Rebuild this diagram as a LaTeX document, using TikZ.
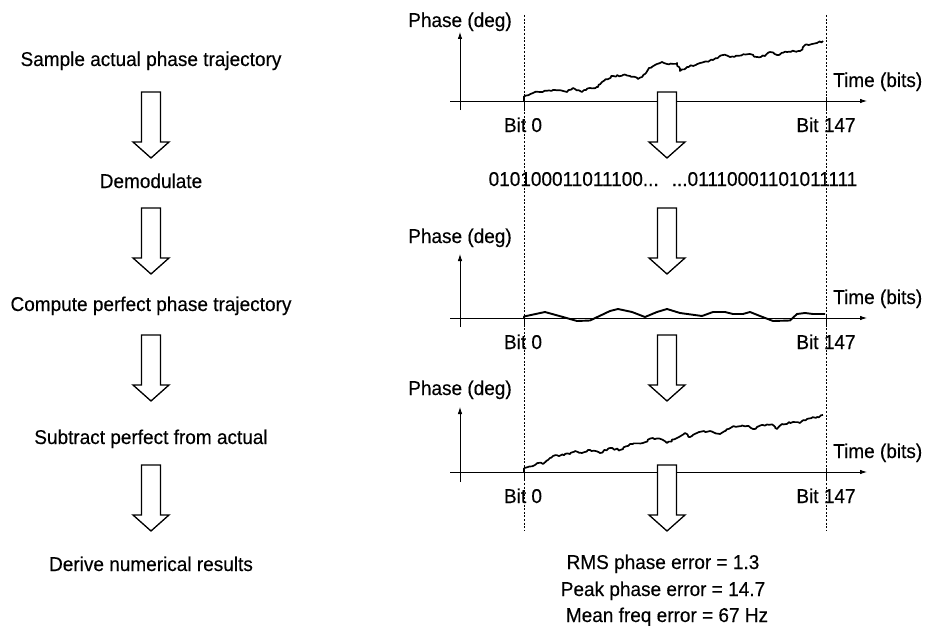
\documentclass[tikz,border=0pt]{standalone}
\usepackage{fontspec}
\setmainfont{Liberation Sans}[FakeStretch=0.95,FakeBold=0.3]
\usetikzlibrary{arrows.meta,decorations.pathmorphing}
\begin{document}
\begin{tikzpicture}[x=1pt,y=-1pt,
  txt/.style={font=\fontsize{20}{27}\selectfont, inner sep=0pt},
  axisline/.style={line width=0.8pt,-{Latex[length=7pt,width=4.5pt]}},
  tickline/.style={line width=0.8pt},
  guide/.style={line width=0.7pt, dash pattern=on 2pt off 1.6pt},
  harrow/.style={line width=1.3pt, line join=miter, fill=white},
  trace/.style={line width=1.7pt, line join=round},
  noisy/.style={trace, decorate, decoration={random steps, segment length=2.2pt, amplitude=0.9pt}},
  hollow/.pic={\draw[harrow] (-9.5,0) -- (-9.5,50) -- (-18,50) -- (0,66) -- (18,50) -- (9.5,50) -- (9.5,0) -- cycle;}
]
\pgfmathsetseed{7}
\fill[white] (0,0) rectangle (927,626);
\useasboundingbox (0,0) rectangle (927,626);

% ---------- left column ----------
\node[txt, anchor=base] (s1) at (151,66) {Sample actual phase trajectory};
\node[txt, anchor=base] (s2) at (151,188) {Demodulate};
\node[txt, anchor=base] (s3) at (151,311) {Compute perfect phase trajectory};
\node[txt, anchor=base] (s4) at (151,444) {Subtract perfect from actual};
\node[txt, anchor=base] (s5) at (151,571) {Derive numerical results};

\pic at (151,92) {hollow};
\pic at (151,208) {hollow};
\pic at (151,335) {hollow};
\pic at (151,465) {hollow};

% ---------- guides ----------
\coordinate (g0t) at (524,15); \coordinate (g0b) at (524,530);
\coordinate (g1t) at (826,15); \coordinate (g1b) at (826,530);
\draw[guide] (g0t) -- (g0b);
\draw[guide] (g1t) -- (g1b);

% ---------- graph 1 (actual) ----------
\coordinate (xa1) at (450,101); \coordinate (xb1) at (867,101);
\coordinate (ya1) at (460,110); \coordinate (yb1) at (460,32);
\draw[axisline] (xa1) -- (xb1);
\draw[axisline] (ya1) -- (yb1);
\draw[tickline] (524,101) -- (524,109);
\draw[tickline] (826,97) -- (826,109);
\node[txt, anchor=base] (p1) at (460,27) {Phase (deg)};
\node[txt, anchor=base west] (t1) at (833,87) {Time (bits)};
\node[txt, anchor=base] (b01) at (523,132) {Bit 0};
\node[txt, anchor=base] (b11) at (826,132) {Bit 147};
\draw[trace] (524,101) -- (524,96.5);
\draw[noisy] (524,96.5) -- (533,93) -- (540,92) -- (553,90) -- (567,92) -- (573,88) -- (582,92) -- (590,88) -- (598,87) -- (602,82) -- (613,76) -- (623,75) -- (630,76) -- (638,79) -- (645,74) -- (649,68) -- (655,65) -- (662,62) -- (667,64) -- (677,63) -- (680,71) -- (687,67) -- (700,63) -- (713,60) -- (723,55) -- (730,57) -- (750,54) -- (757,57) -- (765,56) -- (770,52) -- (777,55) -- (787,52) -- (800,51) -- (805,45) -- (812,44) -- (817,43) -- (823,41);

\node[txt, anchor=base] (bits) at (673,186) {010100011011100...\hspace{13pt}...01110001101011111};

% ---------- graph 2 (perfect) ----------
\coordinate (xa2) at (450,318); \coordinate (xb2) at (867,318);
\coordinate (ya2) at (460,327); \coordinate (yb2) at (460,254);
\draw[axisline] (xa2) -- (xb2);
\draw[axisline] (ya2) -- (yb2);
\draw[tickline] (524,318) -- (524,326);
\draw[tickline] (826,314) -- (826,326);
\node[txt, anchor=base] (p2) at (460,243) {Phase (deg)};
\node[txt, anchor=base west] (t2) at (833,304) {Time (bits)};
\node[txt, anchor=base] (b02) at (523,349) {Bit 0};
\node[txt, anchor=base] (b12) at (826,349) {Bit 147};
\draw[trace, line width=1.9pt] (524,318) -- (524,316.5) -- (545,312) -- (563,317) -- (577,321) -- (590,320.5) -- (610,311) -- (618,309) -- (632,312) -- (645,317) -- (657,312) -- (667,309) -- (680,313) -- (702,316) -- (713,312) -- (725,312) -- (733,314) -- (743,314) -- (750,312) -- (760,316) -- (773,321) -- (790,320.5) -- (797,314) -- (805,313) -- (813,314) -- (825,314);

% ---------- graph 3 (error) ----------
\coordinate (xa3) at (450,472); \coordinate (xb3) at (867,472);
\coordinate (ya3) at (460,482); \coordinate (yb3) at (460,407);
\draw[axisline] (xa3) -- (xb3);
\draw[axisline] (ya3) -- (yb3);
\draw[tickline] (524,472) -- (524,480);
\draw[tickline] (826,468) -- (826,480);
\node[txt, anchor=base] (p3) at (460,395) {Phase (deg)};
\node[txt, anchor=base west] (t3) at (833,458) {Time (bits)};
\node[txt, anchor=base] (b03) at (523,503) {Bit 0};
\node[txt, anchor=base] (b13) at (826,503) {Bit 147};
\draw[trace] (524,472) -- (524,468);
\draw[noisy] (524,468) -- (528,467) -- (535,465) -- (538,463) -- (543,464) -- (548,460) -- (553,456) -- (570,454) -- (575,451) -- (582,453) -- (590,450) -- (600,453) -- (610,448) -- (620,450) -- (630,444) -- (643,443) -- (653,438) -- (663,440) -- (667,443) -- (677,438) -- (685,433) -- (690,437) -- (697,433) -- (710,431) -- (720,434) -- (732,427) -- (747,426) -- (753,429) -- (763,425) -- (773,425) -- (777,429) -- (782,424) -- (793,422) -- (800,423) -- (807,419) -- (817,417) -- (823,415);

% ---------- right arrows ----------
\pic at (667,92) {hollow};
\pic at (667,208) {hollow};
\pic at (667,335) {hollow};
\pic at (667,465) {hollow};

% ---------- results ----------
\node[txt, anchor=base] (r1) at (663,569) {RMS phase error = 1.3};
\node[txt, anchor=base] (r2) at (663,596) {Peak phase error = 14.7};
\node[txt, anchor=base] (r3) at (667,622) {Mean freq error = 67 Hz};
\end{tikzpicture}
\end{document}
